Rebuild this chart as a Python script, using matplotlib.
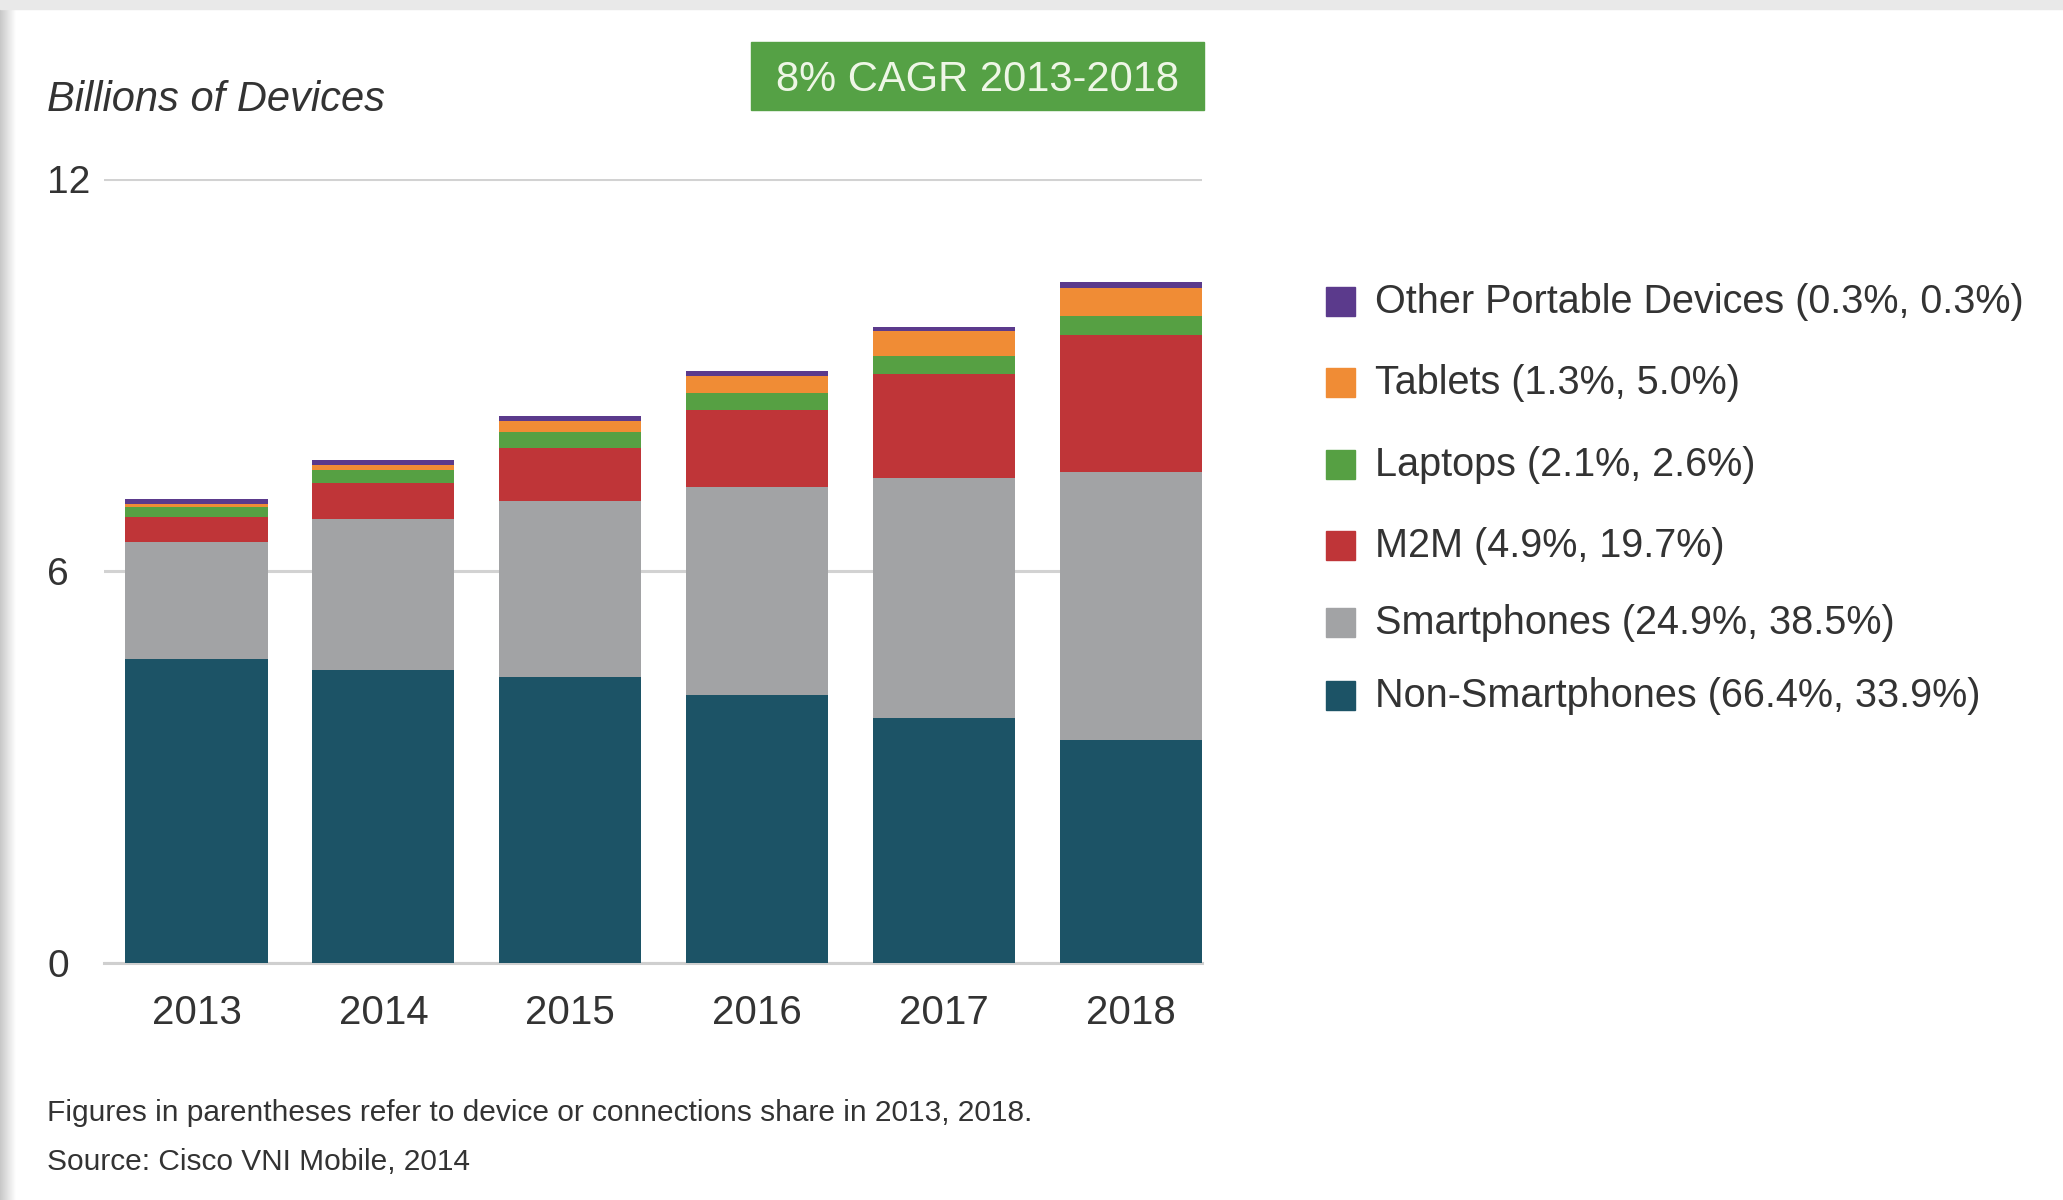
import numpy as np
import matplotlib.pyplot as plt
from matplotlib.patches import Rectangle

plt.rcParams['font.family'] = ['Liberation Sans', 'DejaVu Sans']

years = ['2013', '2014', '2015', '2016', '2017', '2018']

# billions of devices, bottom to top
non_smartphones = [4.65, 4.49, 4.37, 4.10, 3.75, 3.41]
smartphones = [1.80, 2.30, 2.70, 3.19, 3.68, 4.11]
m2m = [0.37, 0.56, 0.82, 1.17, 1.58, 2.09]
laptops = [0.16, 0.20, 0.23, 0.26, 0.28, 0.29]
tablets = [0.04, 0.08, 0.18, 0.26, 0.38, 0.43]
other_portable = [0.08, 0.07, 0.07, 0.08, 0.07, 0.09]

series_names = ['Non-Smartphones (66.4%, 33.9%)', 'Smartphones (24.9%, 38.5%)',
                'M2M (4.9%, 19.7%)', 'Laptops (2.1%, 2.6%)',
                'Tablets (1.3%, 5.0%)', 'Other Portable Devices (0.3%, 0.3%)']
series = [non_smartphones, smartphones, m2m, laptops, tablets, other_portable]
colors = ['#1c5366', '#a2a3a5', '#bf3538', '#56a043', '#f08c35', '#5b3a8c']

text_col = '#333333'

fig = plt.figure(figsize=(20.63, 12), dpi=100)
ax = fig.add_axes([104 / 2063, 1 - 963 / 1200, (1202 - 104) / 2063, (963 - 179) / 1200])

x = np.arange(len(years))
bottom = np.zeros(len(years))
for vals, c in zip(series, colors):
    ax.bar(x, vals, width=0.76, bottom=bottom, color=c, zorder=3)
    bottom += np.array(vals)

ax.set_xlim(-0.495, 5.38)
ax.set_ylim(0, 12)
ax.set_yticks([0, 6, 12])
ax.set_yticklabels(['0', '6', '12'], ha='left')
ax.set_xticks(x)
ax.set_xticklabels(years)
ax.tick_params(axis='y', length=0, pad=41, labelsize=28, labelcolor=text_col)
ax.tick_params(axis='x', length=0, pad=22, labelsize=29, labelcolor=text_col)
ax.grid(axis='y', color='#d2d2d2', linewidth=2.2, zorder=1)
for s in ['top', 'right', 'left']:
    ax.spines[s].set_visible(False)
ax.spines['bottom'].set_color('#cfcfcf')
ax.spines['bottom'].set_linewidth(2.2)

# title and CAGR badge
fig.text(47 / 2063, 1 - 100 / 1200, 'Billions of Devices', fontsize=30, style='italic',
         color=text_col, va='center', ha='left')
fig.patches.append(Rectangle((751 / 2063, 1 - 110 / 1200), 453 / 2063, 68 / 1200,
                             transform=fig.transFigure, color='#55a145'))
fig.text(977 / 2063, 1 - 80 / 1200, '8% CAGR 2013-2018', fontsize=30, color='#eef6e6',
         ha='center', va='center')

# legend, top to bottom
leg_y = [302, 383, 465, 546, 623, 696]
for name, c, y in zip(series_names[::-1], colors[::-1], leg_y):
    fig.patches.append(Rectangle((1326 / 2063, 1 - (y + 14) / 1200), 29 / 2063, 29 / 1200,
                                 transform=fig.transFigure, color=c))
    fig.text(1375 / 2063, 1 - y / 1200, name, fontsize=28.5, color=text_col,
             ha='left', va='center')

# footnotes
fig.text(47 / 2063, 1 - 1113 / 1200,
         'Figures in parentheses refer to device or connections share in 2013, 2018.',
         fontsize=21.5, color=text_col, ha='left', va='center')
fig.text(47 / 2063, 1 - 1162 / 1200, 'Source: Cisco VNI Mobile, 2014',
         fontsize=21.5, color=text_col, ha='left', va='center')

# frame shading at top and left
fig.patches.append(Rectangle((0, 1 - 9 / 1200), 1, 9 / 1200,
                             transform=fig.transFigure, color='#e9e9e9'))
shade = fig.add_axes([0, 0, 16 / 2063, 1 - 9 / 1200])
shade.imshow(np.linspace(0.78, 1.0, 50)[None, :], cmap='gray', vmin=0, vmax=1,
             aspect='auto')
shade.axis('off')

fig.savefig('out.png', dpi=100)
